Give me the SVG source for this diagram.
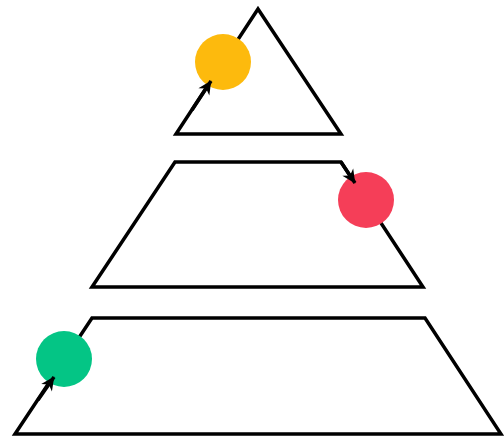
<svg xmlns="http://www.w3.org/2000/svg" width="504" height="436" viewBox="0 0 504 436">
<style>
.shape{fill:#ffffff;stroke:#000000;stroke-width:3.5;stroke-linejoin:miter}
.edge{fill:none;stroke:#000000;stroke-width:3.5;marker-end:url(#ah)}
</style>
<defs>
<marker id="ah" markerUnits="userSpaceOnUse" markerWidth="16" markerHeight="16" viewBox="0 0 16 16" refX="14" refY="8" orient="auto">
<path d="M1,1.5 L14.5,8 L1,14.5 L5,8 z" fill="#000000"/>
</marker>
</defs>
<rect width="504" height="436" fill="#ffffff"/>
<g id="tier-top"><polygon class="shape" points="258,9 341,134 176,134"/></g>
<g id="tier-middle"><polygon class="shape" points="175,162 341,162 423,287 92,287"/></g>
<g id="tier-bottom"><polygon class="shape" points="92,318 425,318 501,434 15,434"/></g>
<g id="dot-yellow"><circle cx="223" cy="62" r="28" fill="#FDBA0D"/></g>
<g id="dot-red"><circle cx="366" cy="200" r="28" fill="#F53E58"/></g>
<g id="dot-green"><circle cx="64" cy="359" r="28" fill="#04C585"/></g>
<g id="connectors">
<path class="edge" d="M192,110 L211,81"/>
<path class="edge" d="M341,162 L355,183"/>
<path class="edge" d="M38,400 L54,377"/>
</g>
</svg>
